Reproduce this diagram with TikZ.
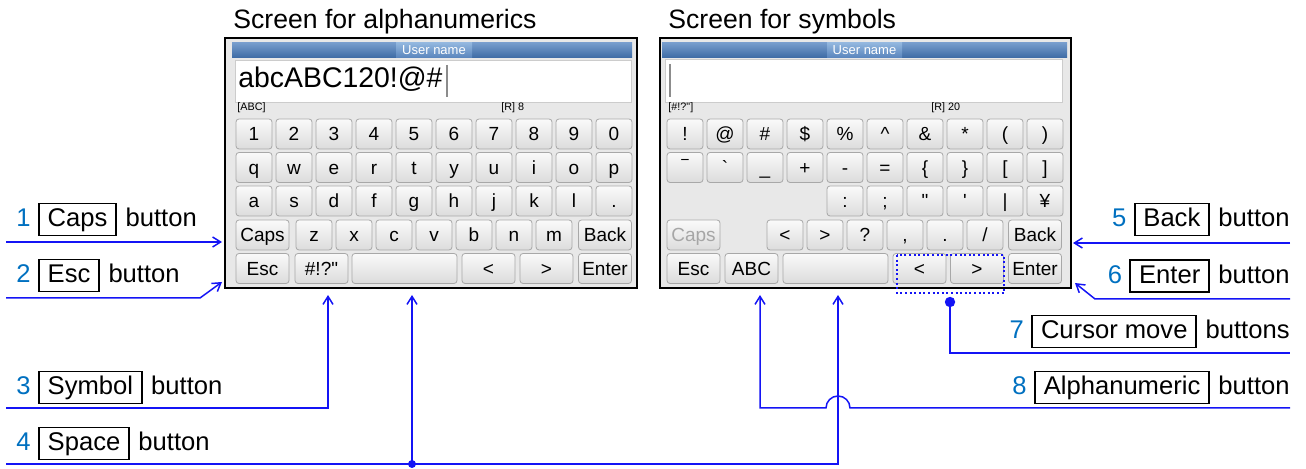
\documentclass[tikz,border=0pt]{standalone}
\usepackage{fontspec}
\setmainfont{Liberation Sans}
\usetikzlibrary{positioning,arrows.meta}
\definecolor{lineblue}{RGB}{20,20,245}
\definecolor{numblue}{RGB}{0,112,192}
\definecolor{scrbg}{RGB}{232,232,232}
\definecolor{keytop}{RGB}{250,250,250}
\definecolor{keybot}{RGB}{220,220,220}
\definecolor{keyline}{RGB}{168,168,168}
\definecolor{bartop}{RGB}{118,156,204}
\definecolor{barbot}{RGB}{60,106,164}
\definecolor{tabtop}{RGB}{146,182,222}
\definecolor{tabbot}{RGB}{88,132,188}

\tikzset{
  key/.style={draw=keyline, top color=keytop, bottom color=keybot, rounded corners=1.5pt,
    minimum width=18pt, minimum height=15pt, inner sep=0pt,
    font=\fontsize{9.5}{10}\selectfont, text height=7.6pt, text depth=0.8pt},
  widekey/.style={key, minimum width=26.5pt},
  spacekey/.style={key, minimum width=52.5pt},
  offkey/.style={widekey, text=black!35},
  btnbox/.style={draw, line width=0.9pt, inner xsep=4.4pt, inner ysep=0pt, minimum height=16pt,
    font=\fontsize{12.8}{14}\selectfont, text height=9.6pt, text depth=2.4pt},
  lbltxt/.style={inner sep=0pt, font=\fontsize{12.8}{14}\selectfont, text height=9.6pt, text depth=2.4pt},
  numtxt/.style={lbltxt, text=numblue},
  smalltxt/.style={anchor=base west, inner sep=0pt, font=\fontsize{5.4}{6}\selectfont},
  call/.style={draw=lineblue, line width=0.75pt},
  callarr/.style={call, -{Straight Barb[length=4pt,width=5pt]}},
}

\begin{document}
\begin{tikzpicture}[x=0.5pt,y=-0.5pt]
 \useasboundingbox (0,0) rectangle (1306,469);

 % screen for alphanumerics
 \node[anchor=base west, inner sep=0pt, font=\fontsize{13.3}{15}\selectfont] (altitle) at (233,29) {Screen for alphanumerics};
 \draw[fill=scrbg, line width=1pt] (225,38) rectangle (637,288);
 \shade[top color=bartop, bottom color=barbot] (232,43) rectangle (632,58);
 \shade[top color=tabtop, bottom color=tabbot] (396,43) rectangle (472,58);
 \node[text=white, inner sep=0pt, font=\fontsize{6.5}{7}\selectfont] (altab) at (434,50.5) {User name};
 \draw[fill=white, draw=black!20] (235,60) rectangle (631,102);
 \node[anchor=base west, inner sep=0pt, font=\fontsize{14.2}{16}\selectfont] (alinput) at (238,88) {abcABC120!@\#};
 \draw[black!45, line width=0.7pt] (447,65) -- (447,97);
 \node[smalltxt] (almode) at (237,111) {[ABC]};
 \node[smalltxt] (alcount) at (501,111) {[R] 8};

 \node[key] (al11) at (236+18,134) {1};
 \node[key] (al12) at (236+58,134) {2};
 \node[key] (al13) at (236+98,134) {3};
 \node[key] (al14) at (236+138,134) {4};
 \node[key] (al15) at (236+178,134) {5};
 \node[key] (al16) at (236+218,134) {6};
 \node[key] (al17) at (236+258,134) {7};
 \node[key] (al18) at (236+298,134) {8};
 \node[key] (al19) at (236+338,134) {9};
 \node[key] (al110) at (236+378,134) {0};

 \node[key] (al21) at (236+18,167.5) {q};
 \node[key] (al22) at (236+58,167.5) {w};
 \node[key] (al23) at (236+98,167.5) {e};
 \node[key] (al24) at (236+138,167.5) {r};
 \node[key] (al25) at (236+178,167.5) {t};
 \node[key] (al26) at (236+218,167.5) {y};
 \node[key] (al27) at (236+258,167.5) {u};
 \node[key] (al28) at (236+298,167.5) {i};
 \node[key] (al29) at (236+338,167.5) {o};
 \node[key] (al210) at (236+378,167.5) {p};

 \node[key] (al31) at (236+18,201) {a};
 \node[key] (al32) at (236+58,201) {s};
 \node[key] (al33) at (236+98,201) {d};
 \node[key] (al34) at (236+138,201) {f};
 \node[key] (al35) at (236+178,201) {g};
 \node[key] (al36) at (236+218,201) {h};
 \node[key] (al37) at (236+258,201) {j};
 \node[key] (al38) at (236+298,201) {k};
 \node[key] (al39) at (236+338,201) {l};
 \node[key] (al310) at (236+378,201) {.};

 \node[widekey] (alcaps) at (236+26.5,235) {Caps};
 \node[key] (al42) at (236+78,235) {z};
 \node[key] (al43) at (236+118,235) {x};
 \node[key] (al44) at (236+158,235) {c};
 \node[key] (al45) at (236+198,235) {v};
 \node[key] (al46) at (236+238,235) {b};
 \node[key] (al47) at (236+278,235) {n};
 \node[key] (al48) at (236+318,235) {m};
 \node[widekey] (alback) at (236+369,235) {Back};

 \node[widekey] (alesc) at (236+26.5,268.5) {Esc};
 \node[widekey] (alsym) at (236+85.5,268.5) {\#!?\textquotedbl};
 \node[spacekey] (alspace) at (236+168.5,268.5) {};
 \node[widekey] (alleft) at (236+252.5,268.5) {<};
 \node[widekey] (alright) at (236+310.5,268.5) {>};
 \node[widekey] (alenter) at (236+369,268.5) {Enter};

 % screen for symbols
 \node[anchor=base west, inner sep=0pt, font=\fontsize{13.3}{15}\selectfont] (sytitle) at (668,29) {Screen for symbols};
 \draw[fill=scrbg, line width=1pt] (660,38) rectangle (1071,288);
 \shade[top color=bartop, bottom color=barbot] (662,43) rectangle (1067,58);
 \shade[top color=tabtop, bottom color=tabbot] (827,43) rectangle (902,58);
 \node[text=white, inner sep=0pt, font=\fontsize{6.5}{7}\selectfont] (sytab) at (864.5,50.5) {User name};
 \draw[fill=white, draw=black!20] (665,59) rectangle (1062,102);
 \draw[black!45, line width=0.7pt] (670,64) -- (670,97);
 \node[smalltxt] (symode) at (668,111) {[\#!?\textquotedbl]};
 \node[smalltxt] (sycount) at (931,111) {[R] 20};

 \node[key] (sy11) at (667+18,134) {!};
 \node[key] (sy12) at (667+58,134) {@};
 \node[key] (sy13) at (667+98,134) {\#};
 \node[key] (sy14) at (667+138,134) {\$};
 \node[key] (sy15) at (667+178,134) {\%};
 \node[key] (sy16) at (667+218,134) {\textasciicircum};
 \node[key] (sy17) at (667+258,134) {\&};
 \node[key] (sy18) at (667+298,134) {*};
 \node[key] (sy19) at (667+338,134) {(};
 \node[key] (sy110) at (667+378,134) {)};

 \node[key] (sy21) at (667+18,167.5) {‾};
 \node[key] (sy22) at (667+58,167.5) {\textasciigrave};
 \node[key] (sy23) at (667+98,167.5) {\_};
 \node[key] (sy24) at (667+138,167.5) {+};
 \node[key] (sy25) at (667+178,167.5) {-};
 \node[key] (sy26) at (667+218,167.5) {=};
 \node[key] (sy27) at (667+258,167.5) {\{};
 \node[key] (sy28) at (667+298,167.5) {\}};
 \node[key] (sy29) at (667+338,167.5) {[};
 \node[key] (sy210) at (667+378,167.5) {]};

 \node[key] (sy35) at (667+178,201) {:};
 \node[key] (sy36) at (667+218,201) {;};
 \node[key] (sy37) at (667+258,201) {\textquotedbl};
 \node[key] (sy38) at (667+298,201) {\textquotesingle};
 \node[key] (sy39) at (667+338,201) {|};
 \node[key] (sy310) at (667+378,201) {¥};

 \node[offkey] (sycaps) at (667+26.5,235) {Caps};
 \node[key] (sy43) at (667+118,235) {<};
 \node[key] (sy44) at (667+158,235) {>};
 \node[key] (sy45) at (667+198,235) {?};
 \node[key] (sy46) at (667+238,235) {,};
 \node[key] (sy47) at (667+278,235) {.};
 \node[key] (sy48) at (667+318,235) {/};
 \node[widekey] (syback) at (667+368,235) {Back};

 \node[widekey] (syesc) at (667+26.5,268.5) {Esc};
 \node[widekey] (syabc) at (667+84.5,268.5) {ABC};
 \node[spacekey] (syspace) at (667+168.5,268.5) {};
 \node[widekey] (syleft) at (667+252.5,268.5) {<};
 \node[widekey] (syright) at (667+310,268.5) {>};
 \node[widekey] (syenter) at (667+368,268.5) {Enter};

 %%%%%%%%%%%%%%%%%%%%%%%%%%%%%%%%%%%

 % labels, left
 \node[numtxt, anchor=west] (n1) at (16,219.5) {1};
 \node[btnbox, right=3.5pt of n1] (b1) {Caps};
 \node[lbltxt, right=4pt of b1] (t1) {button};
 \node[numtxt, anchor=west] (n2) at (16,275.5) {2};
 \node[btnbox, right=3.5pt of n2] (b2) {Esc};
 \node[lbltxt, right=4pt of b2] (t2) {button};
 \node[numtxt, anchor=west] (n3) at (16,387.5) {3};
 \node[btnbox, right=3.5pt of n3] (b3) {Symbol};
 \node[lbltxt, right=4pt of b3] (t3) {button};
 \node[numtxt, anchor=west] (n4) at (16,443.5) {4};
 \node[btnbox, right=3.5pt of n4] (b4) {Space};
 \node[lbltxt, right=4pt of b4] (t4) {button};

 % labels, right
 \node[lbltxt, anchor=east] (t5) at (1290,219.5) {button};
 \node[btnbox, left=4pt of t5] (b5) {Back};
 \node[numtxt, left=3.5pt of b5] (n5) {5};
 \node[lbltxt, anchor=east] (t6) at (1290,276) {button};
 \node[btnbox, left=4pt of t6] (b6) {Enter};
 \node[numtxt, left=3.5pt of b6] (n6) {6};
 \node[lbltxt, anchor=east] (t7) at (1290,331.5) {buttons};
 \node[btnbox, left=4pt of t7] (b7) {Cursor move};
 \node[numtxt, left=3.5pt of b7] (n7) {7};
 \node[lbltxt, anchor=east] (t8) at (1290,387.5) {button};
 \node[btnbox, left=4pt of t8] (b8) {Alphanumeric};
 \node[numtxt, left=3.5pt of b8] (n8) {8};

 % connectors
 \coordinate (s1) at (6,242);
 \coordinate (e1) at (222,242);
 \coordinate (s2) at (6,298);
 \coordinate (k2) at (200,298);
 \coordinate (e2) at (222,282);
 \coordinate (s3) at (6,408);
 \coordinate (e3) at (328,295);
 \coordinate (s4) at (6,464);
 \coordinate (j4) at (412,464);
 \coordinate (e4) at (412,295);
 \coordinate (f4) at (838,295);
 \coordinate (s5) at (1290,243);
 \coordinate (e5) at (1073,243);
 \coordinate (s6) at (1290,299);
 \coordinate (k6) at (1095,299);
 \coordinate (e6) at (1075,283);
 \coordinate (j7) at (950,302);
 \coordinate (s7) at (1290,353);
 \coordinate (s8) at (1290,408);
 \coordinate (h8) at (850,408);
 \coordinate (k8) at (760,408);
 \coordinate (e8) at (760,295);

 \draw[callarr] (s1) -- (e1);
 \draw[callarr] (s2) -- (k2) -- (e2);
 \draw[callarr] (s3) -| (e3);
 \draw[callarr] (s4) -| (f4);
 \draw[callarr] (j4) -- (e4);
 \path[fill=lineblue] (j4) circle (2pt);
 \draw[callarr] (s5) -- (e5);
 \draw[callarr] (s6) -- (k6) -- (e6);
 \draw[call, line width=1pt, dash pattern=on 1pt off 1.3pt] (897,255) rectangle (1004,293);
 \draw[call] (j7) |- (s7);
 \path[fill=lineblue] (j7) circle (2.6pt);
 \draw[callarr] (s8) -- (h8) arc[start angle=0, end angle=-180, radius=12] -- (k8) -- (e8);
\end{tikzpicture}
\end{document}
